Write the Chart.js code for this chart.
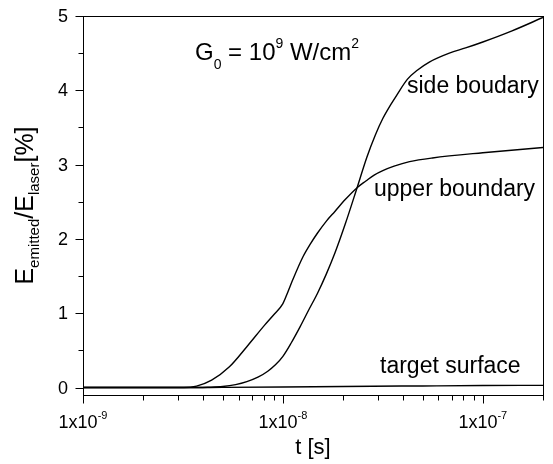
<!DOCTYPE html>
<html>
<head>
<meta charset="utf-8">
<script src="https://cdn.jsdelivr.net/npm/chart.js@4/dist/chart.umd.min.js"></script>
<style>
  body { margin: 0; background: #fff; }
  #wrap { width: 553px; height: 464px; }
</style>
</head>
<body>
<div id="wrap"><canvas id="chart" width="553" height="464"></canvas></div>
<script>
// time [s] and emitted energy share [%]
const sideT = [1e-9, 3.5e-9, 4.2e-9, 5e-9, 5.8e-9, 6.6e-9, 7.5e-9, 8.4e-9, 9.2e-9, 1e-8, 1.1e-8, 1.22e-8, 1.35e-8, 1.49e-8, 1.65e-8, 1.82e-8, 2.05e-8, 2.35e-8, 2.63e-8, 2.9e-8, 3.16e-8, 3.45e-8, 3.7e-8, 4.2e-8, 4.7e-8, 5.4e-8, 6.8e-8, 8.2e-8, 1e-7, 1.4e-7, 2e-7];
const sideE = [0, 0, 0.005, 0.015, 0.04, 0.08, 0.14, 0.22, 0.31, 0.42, 0.6, 0.82, 1.05, 1.27, 1.53, 1.81, 2.2, 2.69, 3.1, 3.4, 3.62, 3.8, 3.93, 4.15, 4.27, 4.38, 4.5, 4.57, 4.65, 4.8, 4.98];

const upperT = [1e-9, 3.2e-9, 3.7e-9, 4.4e-9, 5.4e-9, 6.6e-9, 8.1e-9, 9e-9, 1e-8, 1.06e-8, 1.12e-8, 1.26e-8, 1.37e-8, 1.49e-8, 1.65e-8, 1.82e-8, 2.05e-8, 2.35e-8, 2.6e-8, 2.86e-8, 3.16e-8, 3.6e-8, 4.3e-8, 5.6e-8, 1e-7, 2e-7];
const upperE = [0, 0, 0.02, 0.1, 0.28, 0.55, 0.84, 0.98, 1.13, 1.29, 1.45, 1.76, 1.93, 2.08, 2.24, 2.37, 2.53, 2.69, 2.78, 2.86, 2.92, 2.98, 3.04, 3.09, 3.16, 3.23];

const targetT = [1e-9, 3e-9, 5e-9, 1e-8, 2e-8, 5e-8, 1e-7, 2e-7];
const targetE = [0, 0, 0.003, 0.008, 0.015, 0.022, 0.027, 0.03];

const xMajorTicks = [1e-9, 1e-8, 1e-7];
const xTickExp = ['-9', '-8', '-7'];
const yMajorTicks = [0, 1, 2, 3, 4, 5];
const yMinorTicks = [0.5, 1.5, 2.5, 3.5, 4.5];

const xMinorTicks = [];
[1e-9, 1e-8, 1e-7].forEach(d => {
    for (let m = 2; m <= 9; m++) {
        if (m * d <= 2e-7 * 1.0001) xMinorTicks.push(m * d);
    }
});

const FONT = '"Liberation Sans", Arial, sans-serif';

const toPoints = (t, e) => t.map((v, i) => ({ x: v, y: e[i] }));

const line = (label, t, e) => ({
    label: label,
    data: toPoints(t, e),
    borderColor: '#000',
    borderWidth: 1.4,
    pointRadius: 0,
    fill: false,
    cubicInterpolationMode: 'monotone'
});

// draws frame, ticks, labels with super/subscripts and the annotations
const decorations = {
    id: 'decorations',
    afterDraw(chart) {
        const { ctx, chartArea: a, scales: { x, y } } = chart;
        ctx.save();
        ctx.strokeStyle = '#000';
        ctx.fillStyle = '#000';
        ctx.lineWidth = 1;
        ctx.strokeRect(Math.round(a.left) + 0.5, Math.round(a.top) + 0.5, Math.round(a.right - a.left), Math.round(a.bottom - a.top));

        const bottom = Math.round(a.bottom) + 0.5;
        const left = Math.round(a.left) + 0.5;
        ctx.beginPath();
        xMajorTicks.forEach(v => {
            const px = Math.round(x.getPixelForValue(v)) + 0.5;
            ctx.moveTo(px, bottom); ctx.lineTo(px, bottom + 8);
        });
        xMinorTicks.forEach(v => {
            const px = Math.round(x.getPixelForValue(v)) + 0.5;
            ctx.moveTo(px, bottom); ctx.lineTo(px, bottom + 5);
        });
        yMajorTicks.forEach(v => {
            const py = Math.round(y.getPixelForValue(v)) + 0.5;
            ctx.moveTo(left, py); ctx.lineTo(left - 8, py);
        });
        yMinorTicks.forEach(v => {
            const py = Math.round(y.getPixelForValue(v)) + 0.5;
            ctx.moveTo(left, py); ctx.lineTo(left - 5, py);
        });
        ctx.stroke();

        // x tick labels 1x10^n
        xMajorTicks.forEach((v, i) => {
            const px = x.getPixelForValue(v);
            ctx.font = '18px ' + FONT;
            const w1 = ctx.measureText('1x10').width;
            ctx.font = '11px ' + FONT;
            const w2 = ctx.measureText(xTickExp[i]).width;
            const start = px - (w1 + w2) / 2;
            ctx.textAlign = 'left';
            ctx.textBaseline = 'alphabetic';
            ctx.font = '18px ' + FONT;
            ctx.fillText('1x10', start, 428);
            ctx.font = '11px ' + FONT;
            ctx.fillText(xTickExp[i], start + w1, 419);
        });

        // y tick labels
        ctx.font = '18px ' + FONT;
        ctx.textAlign = 'right';
        ctx.textBaseline = 'middle';
        yMajorTicks.forEach(v => {
            ctx.fillText(String(v), 68, y.getPixelForValue(v) + 1);
        });

        // x title
        ctx.font = '22px ' + FONT;
        ctx.textAlign = 'center';
        ctx.textBaseline = 'alphabetic';
        ctx.fillText('t [s]', (a.left + a.right) / 2, 454);

        // y title, rotated, with subscripts
        const parts = [
            ['E', 25, 0], ['emitted', 15, 6], ['/E', 25, 0], ['laser', 15, 6], ['[%]', 25, 0]
        ];
        let total = 0;
        parts.forEach(p => { ctx.font = p[1] + 'px ' + FONT; total += ctx.measureText(p[0]).width; });
        ctx.save();
        ctx.translate(33, (a.top + a.bottom) / 2);
        ctx.rotate(-Math.PI / 2);
        ctx.textAlign = 'left';
        let cx = -total / 2;
        parts.forEach(p => {
            ctx.font = p[1] + 'px ' + FONT;
            ctx.fillText(p[0], cx, p[2]);
            cx += ctx.measureText(p[0]).width;
        });
        ctx.restore();

        // G0 annotation
        const ann = [
            ['G', 24, 60], ['0', 14, 69], [' = 10', 24, 60], ['9', 14, 48], [' W/cm', 24, 60], ['2', 14, 48]
        ];
        ctx.textAlign = 'left';
        let ax = 195;
        ann.forEach(p => {
            ctx.font = p[1] + 'px ' + FONT;
            ctx.fillText(p[0], ax, p[2]);
            ax += ctx.measureText(p[0]).width;
        });

        // curve labels
        ctx.font = '23px ' + FONT;
        ctx.fillText('side boudary', 407, 93);
        ctx.fillText('upper boundary', 374, 196);
        ctx.fillText('target surface', 380, 373);
        ctx.restore();
    }
};

new Chart(document.getElementById('chart').getContext('2d'), {
    type: 'line',
    data: {
        datasets: [
            line('side boudary', sideT, sideE),
            line('upper boundary', upperT, upperE),
            line('target surface', targetT, targetE)
        ]
    },
    options: {
        responsive: false,
        animation: false,
        layout: { padding: { top: 16, right: 10, left: 0, bottom: 0 } },
        plugins: { legend: { display: false }, tooltip: { enabled: false } },
        scales: {
            x: {
                type: 'logarithmic',
                min: 1e-9,
                max: 2e-7,
                ticks: { display: false },
                grid: { display: false },
                border: { display: false },
                afterFit: s => { s.height = 69; }
            },
            y: {
                type: 'linear',
                min: -0.1,
                max: 5,
                ticks: { display: false },
                grid: { display: false },
                border: { display: false },
                afterFit: s => { s.width = 83; }
            }
        }
    },
    plugins: [decorations]
});
</script>
</body>
</html>
